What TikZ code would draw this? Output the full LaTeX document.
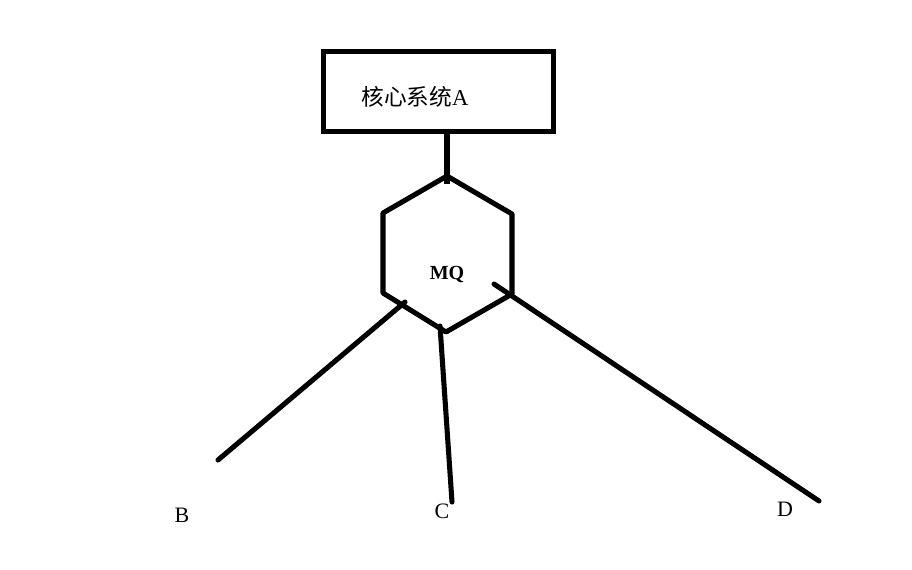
\documentclass[tikz,border=0pt]{standalone}
\usepackage{fontspec}
\setmainfont{Liberation Serif}
\newfontfamily\cjk{Noto Sans CJK SC}
\usetikzlibrary{positioning}

\tikzset{
  thickline/.style={line width=3.8pt, line cap=round},
  sysbox/.style={draw, line width=3.8pt, minimum width=172.5pt, minimum height=60pt, inner sep=0pt},
  endlabel/.style={font=\fontsize{16.5}{18}\selectfont, inner sep=0pt}
}

\begin{document}
\begin{tikzpicture}[x=0.75pt,y=-0.75pt]
    \useasboundingbox (0,0) rectangle (912,569);

    % core system box
    \node[sysbox] (sysA) at (438.5,91.5) {};
    \node[font=\fontsize{17}{19}\selectfont, inner sep=0pt] (sysAtext) at (415,97) {{\cjk 核心系统}A};

    % hexagon corners
    \coordinate (hxTop) at (447,176);
    \coordinate (hxUL)  at (383,213);
    \coordinate (hxLL)  at (383,293);
    \coordinate (hxBot) at (446,332);
    \coordinate (hxLR)  at (512,294);
    \coordinate (hxUR)  at (512,214);
    \draw[line width=3.8pt, line join=round]
      (hxTop) -- (hxUL) -- (hxLL) -- (hxBot) -- (hxLR) -- (hxUR) -- cycle;
    \node[font=\bfseries\fontsize{15}{17}\selectfont, inner sep=0pt] (mq) at (447,274) {MQ};

    % box to MQ
    \coordinate (mqIn) at (447,184);
    \draw[line width=3.8pt] (sysA.south -| mqIn) -- (mqIn);

    % consumers
    \coordinate (bStart) at (405,302);
    \coordinate (cStart) at (440,326);
    \coordinate (dStart) at (494,284);
    \node[endlabel] (B) at (182,515) {B};
    \node[endlabel] (C) at (442,511) {C};
    \node[endlabel] (D) at (785,509) {D};
    \coordinate (bEnd) at (218,460);
    \coordinate (cEnd) at (452,502);
    \coordinate (dEnd) at (819,501);

    \draw[thickline]
      (bStart) -- (bEnd)
      (cStart) -- (cEnd)
      (dStart) -- (dEnd)
      ;

  \end{tikzpicture}
\end{document}
